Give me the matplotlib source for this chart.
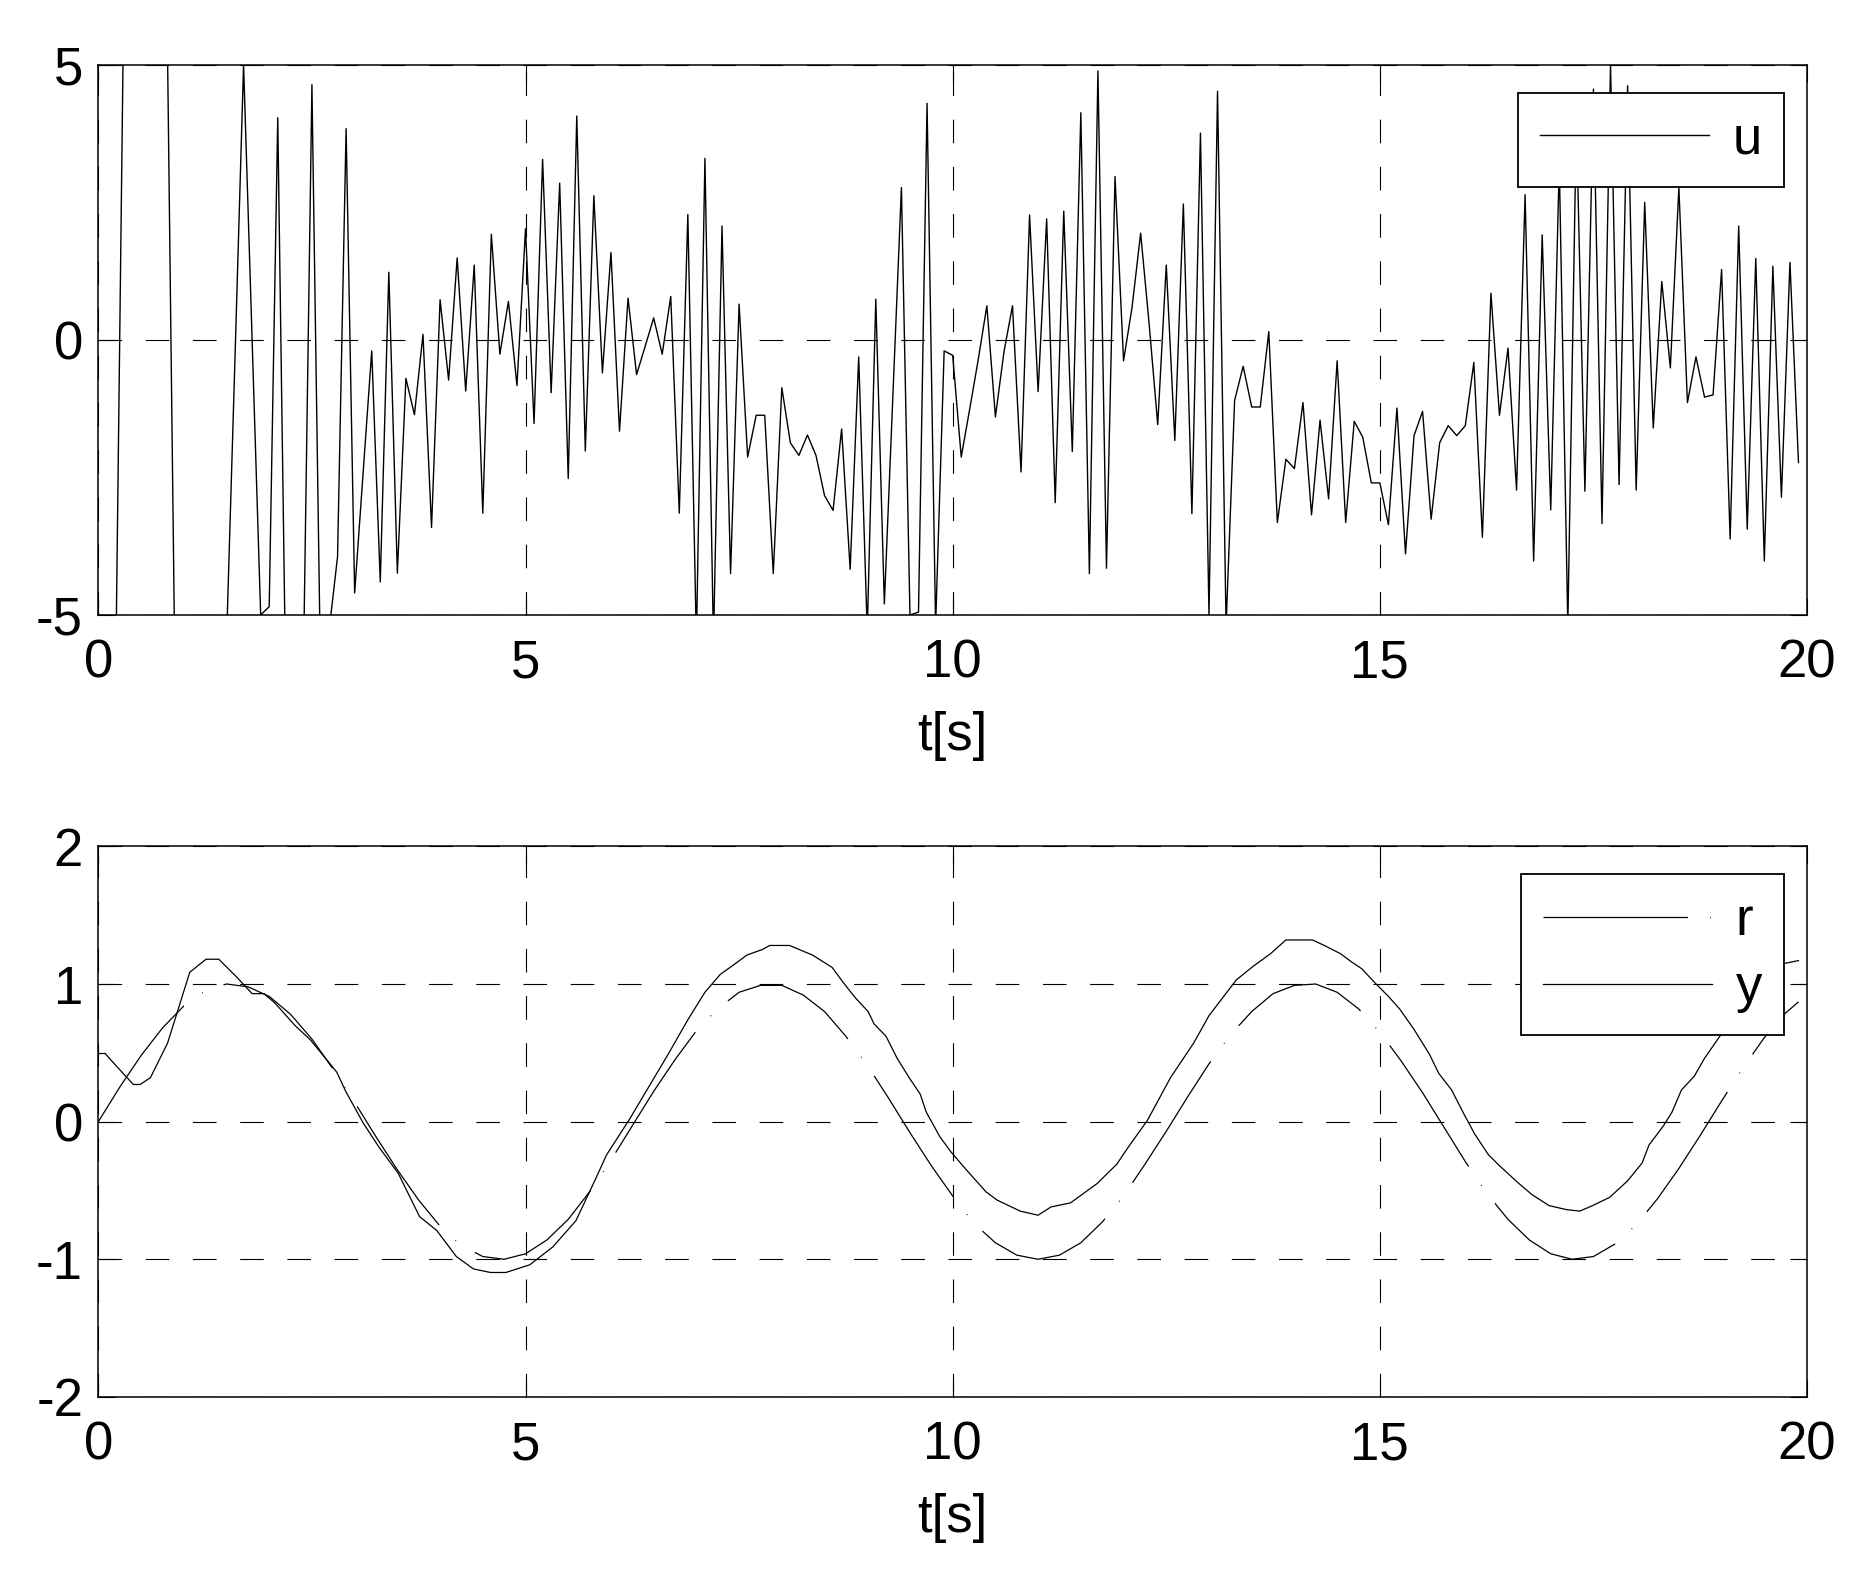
import numpy as np
import matplotlib
matplotlib.use("Agg")
import matplotlib.pyplot as plt

plt.rcParams['font.family'] = ['Liberation Sans', 'DejaVu Sans']
plt.rcParams['axes.unicode_minus'] = False
plt.rcParams['lines.scale_dashes'] = False

# control signal u, sampled every 0.1 s (values outside +-5 are clipped in the plot)
t_u = np.arange(200) / 10
u = [-12, -9, -6.5, 6.5, 9, 10, 9, 8, 6.5, -6.5,
     -9, -10, -9, -8, -7, -5.5, -0.3, 5.0, 0.0, -5.0,
     -4.85, 4.04, -7, -8, -6, 4.64, -6, -5.3, -3.94, 3.84,
     -4.6, -2.4, -0.2, -4.4, 1.23, -4.24, -0.70, -1.36, 0.10, -3.41,
     0.73, -0.73, 1.49, -0.93, 1.36, -3.15, 1.92, -0.26, 0.70, -0.83,
     2.02, -1.52, 3.28, -0.96, 2.85, -2.52, 4.07, -2.02, 2.62, -0.60,
     1.59, -1.66, 0.76, -0.63, -0.12, 0.40, -0.26, 0.79, -3.15, 2.28,
     -5.5, 3.30, -5.5, 2.07, -4.25, 0.65, -2.13, -1.37, -1.37, -4.25,
     -0.87, -1.87, -2.10, -1.73, -2.10, -2.83, -3.10, -1.62, -4.17, -0.31,
     -5.3, 0.74, -4.8, -1.0, 2.77, -5.0, -4.95, 4.30, -5.2, -0.20,
     -0.28, -2.13, -1.25, -0.35, 0.62, -1.40, -0.22, 0.62, -2.40, 2.27,
     -0.94, 2.20, -2.96, 2.34, -2.03, 4.13, -4.25, 4.89, -4.15, 2.97,
     -0.38, 0.60, 1.94, 0.28, -1.54, 1.36, -1.83, 2.47, -3.16, 3.76,
     -5.0, 4.52, -5.2, -1.10, -0.48, -1.22, -1.22, 0.15, -3.32, -2.17,
     -2.34, -1.14, -3.18, -1.46, -2.89, -0.38, -3.32, -1.48, -1.77, -2.60,
     -2.60, -3.36, -1.24, -3.89, -1.74, -1.30, -3.26, -1.87, -1.56, -1.74,
     -1.56, -0.41, -3.59, 0.85, -1.37, -0.15, -2.73, 2.64, -4.02, 1.91,
     -3.09, 3.2, -5.2, 4.0, -2.75, 4.56, -3.34, 5.0, -2.63, 4.62,
     -2.73, 2.50, -1.60, 1.06, -0.51, 2.77, -1.14, -0.31, -1.04, -1.00,
     1.28, -3.62, 2.07, -3.44, 1.48, -4.02, 1.34, -2.86, 1.41, -2.23]

# reference r, read every 0.25 s
t_r = np.append(np.arange(0, 20, 0.25), 19.9)
r = [0.0, 0.25, 0.48, 0.68, 0.84, 0.95, 1.0, 0.98, 0.91, 0.78,
     0.6, 0.38, 0.14, -0.11, -0.35, -0.57, -0.76, -0.9, -0.98, -1.0,
     -0.96, -0.86, -0.71, -0.51, -0.28, -0.03, 0.22, 0.45, 0.66, 0.82,
     0.94, 0.99, 0.99, 0.92, 0.8, 0.62, 0.41, 0.17, -0.08, -0.32,
     -0.54, -0.74, -0.88, -0.97, -1.0, -0.97, -0.88, -0.73, -0.54, -0.31,
     -0.07, 0.18, 0.42, 0.63, 0.8, 0.93, 0.99, 1.0, 0.94, 0.82,
     0.65, 0.44, 0.21, -0.04, -0.29, -0.52, -0.71, -0.86, -0.96, -1.0,
     -0.98, -0.89, -0.75, -0.56, -0.34, -0.1, 0.15, 0.39, 0.61, 0.79,
     0.87]

# output y, read at the curve's corners
t_y = [0, 0.08, 0.18, 0.41, 0.49, 0.61, 0.81, 1.07, 1.26, 1.41,
       1.62, 1.80, 1.94, 2.07, 2.30, 2.48, 2.66, 2.79, 2.90, 3.10,
       3.29, 3.51, 3.76, 3.96, 4.19, 4.39, 4.59, 4.77, 5.05, 5.32,
       5.59, 5.81, 5.95, 6.22, 6.44, 6.67, 6.90, 7.10, 7.28, 7.46,
       7.59, 7.77, 7.86, 8.09, 8.36, 8.59, 8.72, 8.86, 9.01, 9.08,
       9.22, 9.35, 9.49, 9.62, 9.69, 9.85, 9.98, 10.16, 10.39, 10.52,
       10.79, 11.0, 11.15, 11.38, 11.69, 11.92, 12.05, 12.28, 12.55, 12.82,
       13.0, 13.32, 13.52, 13.72, 13.9, 14.21, 14.35, 14.54, 14.67, 14.79,
       14.94, 15.10, 15.23, 15.4, 15.58, 15.69, 15.84, 15.98, 16.11, 16.27,
       16.4, 16.61, 16.78, 16.98, 17.19, 17.34, 17.49, 17.69, 17.9, 18.07,
       18.15, 18.32, 18.42, 18.53, 18.68, 18.8, 18.99, 19.3, 19.55, 19.74,
       19.9]
y = [0.495, 0.495, 0.425, 0.27, 0.27, 0.32, 0.57, 1.085, 1.18, 1.18,
     1.05, 0.93, 0.93, 0.86, 0.70, 0.595, 0.46, 0.36, 0.215, -0.01,
     -0.19, -0.375, -0.69, -0.79, -0.98, -1.07, -1.096, -1.096, -1.04, -0.91,
     -0.72, -0.43, -0.24, 0.02, 0.25, 0.49, 0.74, 0.94, 1.07, 1.15,
     1.21, 1.25, 1.28, 1.28, 1.21, 1.12, 1.01, 0.90, 0.80, 0.71,
     0.62, 0.46, 0.32, 0.20, 0.07, -0.11, -0.22, -0.35, -0.51, -0.57,
     -0.65, -0.68, -0.62, -0.59, -0.45, -0.31, -0.19, 0.01, 0.32, 0.57,
     0.77, 1.03, 1.13, 1.22, 1.32, 1.32, 1.28, 1.22, 1.16, 1.11,
     1.01, 0.91, 0.82, 0.67, 0.49, 0.35, 0.23, 0.06, -0.09, -0.24,
     -0.32, -0.44, -0.53, -0.61, -0.64, -0.65, -0.61, -0.55, -0.43, -0.30,
     -0.17, -0.03, 0.07, 0.23, 0.33, 0.46, 0.63, 0.92, 1.08, 1.15,
     1.17]

fs = 38
fig = plt.figure(figsize=(18.66, 15.82), dpi=100)
ax1 = fig.add_axes([0.0527, 0.6113, 0.9157, 0.3477])
ax2 = fig.add_axes([0.0527, 0.1170, 0.9157, 0.3480])

for ax in (ax1, ax2):
    ax.set_xlim(0, 20)
    ax.set_xticks([0, 5, 10, 15, 20])
    ax.grid(True, color='black', linewidth=0.8, linestyle=(0, (17, 17)))
    ax.tick_params(direction='in', length=12, width=0.8, top=True, right=True,
                   labelsize=fs)
    ax.tick_params(axis='x', pad=17)
    ax.tick_params(axis='y', pad=11)
    for s in ax.spines.values():
        s.set_linewidth(1.1)
    ax.set_xlabel('t[s]', fontsize=fs, labelpad=16)

leg_opts = dict(loc='upper right', bbox_to_anchor=(0.9865, 0.9496), borderaxespad=0,
                fontsize=fs, fancybox=False, framealpha=1, edgecolor='black',
                borderpad=0.42, handlelength=3.2, handletextpad=0.45)

# top: control signal
ax1.plot(t_u, u, color='black', linewidth=1.0, label='u')
ax1.set_ylim(-5, 5)
ax1.set_yticks([-5, 0, 5])
leg1 = ax1.legend(**leg_opts)
leg1.get_frame().set_linewidth(1.3)

# bottom: reference and output
ax2.plot(t_r, r, color='black', linewidth=0.9, linestyle=(0, (104, 16, 0.6, 16)), label='r')
ax2.plot(t_y, y, color='black', linewidth=0.9, label='y')
ax2.set_ylim(-2, 2)
ax2.set_yticks([-2, -1, 0, 1, 2])
leg2 = ax2.legend(labelspacing=0.32, **leg_opts)
leg2.get_frame().set_linewidth(1.3)

fig.savefig('out.png', dpi=100)
